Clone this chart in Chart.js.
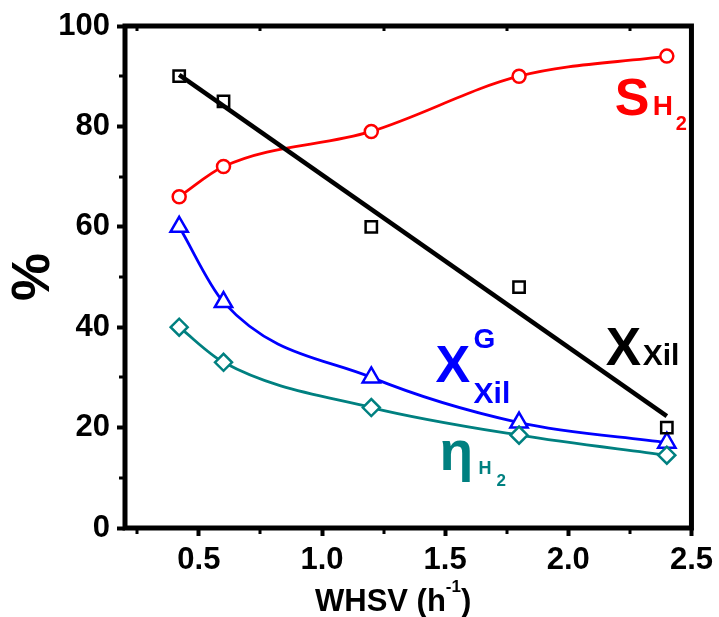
<!DOCTYPE html>
<html>
<head>
<meta charset="utf-8">
<script src="https://cdn.jsdelivr.net/npm/chart.js@4.4.1/dist/chart.umd.min.js"></script>
<style>
  html, body { margin: 0; padding: 0; background: #ffffff; }
  #wrap { width: 719px; height: 617px; position: relative; }
</style>
</head>
<body>
<div id="wrap"><canvas id="chart" width="719" height="617"></canvas></div>
<script>
// Weight hourly space velocity (h^-1)
const whsv = [0.42, 0.6, 1.2, 1.8, 2.4];
// H2 selectivity (%)
const selH2 = [66, 72, 79, 90, 94];
// Xylitol conversion (%)
const convXil = [90, 85, 60, 48, 20];
// Xylitol conversion to gas (%)
const convGas = [60, 45, 30, 21, 17];
// H2 yield (%)
const yieldH2 = [40, 33, 24, 18.5, 14.5];

const xTicks = [0.5, 1.0, 1.5, 2.0, 2.5];
const yTicks = [0, 20, 40, 60, 80, 100];

const FONT = '"Liberation Sans", Arial, Helvetica, sans-serif';
const RED = '#ff0000', BLUE = '#0000ff', TEAL = '#008080', BLACK = '#000000';

const pts = ys => whsv.map((x, i) => ({ x, y: ys[i] }));

// least-squares straight line through the xylitol conversion points
function linearFit(xs, ys) {
  const n = xs.length;
  const mx = xs.reduce((a, b) => a + b, 0) / n;
  const my = ys.reduce((a, b) => a + b, 0) / n;
  let sxy = 0, sxx = 0;
  for (let i = 0; i < n; i++) { sxy += (xs[i] - mx) * (ys[i] - my); sxx += (xs[i] - mx) ** 2; }
  const b = sxy / sxx;
  return x => my + b * (x - mx);
}
const fit = linearFit(whsv, convXil);
const fitLine = [whsv[0], whsv[whsv.length - 1]].map(x => ({ x, y: fit(x) }));

// frame, minor ticks, axis title with superscript and curve labels
const decor = {
  id: 'decor',
  afterDraw(chart) {
    const { ctx, chartArea: a, scales: { x, y } } = chart;
    ctx.save();
    ctx.strokeStyle = BLACK;
    // minor ticks
    ctx.lineWidth = 3;
    ctx.beginPath();
    for (let v = 0.25; v < 2.5; v += 0.5) {
      const px = Math.round(x.getPixelForValue(v));
      ctx.moveTo(px, a.bottom); ctx.lineTo(px, a.bottom + 6);
      ctx.moveTo(px, a.top); ctx.lineTo(px, a.top + 5);
    }
    for (let v = 10; v < 100; v += 20) {
      const py = Math.round(y.getPixelForValue(v));
      ctx.moveTo(a.left, py); ctx.lineTo(a.left - 6, py);
    }
    ctx.stroke();
    // frame
    ctx.lineWidth = 5;
    ctx.strokeRect(a.left, a.top, a.right - a.left, a.bottom - a.top);

    // x axis title
    ctx.fillStyle = BLACK;
    ctx.textBaseline = 'alphabetic';
    ctx.textAlign = 'left';
    let cx = 315;
    const base = 611;
    ctx.font = 'bold 31px ' + FONT;
    ctx.fillText('WHSV (h', cx, base);
    cx += ctx.measureText('WHSV (h').width;
    ctx.font = 'bold 17px ' + FONT;
    ctx.fillText('-1', cx, base - 19);
    cx += ctx.measureText('-1').width;
    ctx.font = 'bold 31px ' + FONT;
    ctx.fillText(')', cx, base);

    // curve labels
    const rich = (color, xv, yv, parts) => {
      const x0 = x.getPixelForValue(xv), y0 = y.getPixelForValue(yv);
      ctx.fillStyle = color;
      parts.forEach(p => {
        ctx.font = 'bold ' + p.size + 'px ' + FONT;
        ctx.fillText(p.t, x0 + p.dx, y0 + p.dy);
      });
    };
    rich(RED, 2.189, 82.3, [
      { t: 'S', size: 52, dx: 0, dy: 0 },
      { t: 'H', size: 28, dx: 38, dy: 0 },
      { t: '2', size: 20, dx: 61, dy: 15 }
    ]);
    rich(BLACK, 2.152, 32.5, [
      { t: 'X', size: 53, dx: 0, dy: 0 },
      { t: 'Xil', size: 30, dx: 37, dy: 0 }
    ]);
    rich(BLUE, 1.461, 29.1, [
      { t: 'X', size: 52, dx: 0, dy: 0 },
      { t: 'G', size: 28, dx: 38, dy: -34 },
      { t: 'Xil', size: 30, dx: 38, dy: 21 }
    ]);
    rich(TEAL, 1.481, 11.6, [
      { t: 'η', size: 55, dx: -1, dy: 0 },
      { t: 'H', size: 18, dx: 38, dy: 4 },
      { t: '2', size: 17, dx: 56, dy: 16 }
    ]);
    ctx.restore();
  }
};

const curve = (data, color, style, radius) => ({
  type: 'line',
  data,
  borderColor: color,
  borderWidth: 2.8,
  cubicInterpolationMode: 'monotone',
  pointStyle: style,
  pointRadius: radius,
  pointHoverRadius: radius,
  pointBorderColor: color,
  pointBackgroundColor: '#ffffff',
  pointBorderWidth: 2.5,
  fill: false
});

new Chart(document.getElementById('chart'), {
  type: 'scatter',
  data: {
    datasets: [
      { type: 'line', data: fitLine, borderColor: BLACK, borderWidth: 4.5, pointRadius: 0, fill: false },
      { type: 'scatter', data: pts(convXil), pointStyle: 'rect', pointRadius: 8, pointHoverRadius: 8,
        pointBorderColor: BLACK, pointBackgroundColor: 'rgba(255,255,255,0)', pointBorderWidth: 2.5 },
      curve(pts(yieldH2), TEAL, 'rectRot', 8.5),
      curve(pts(convGas), BLUE, 'triangle', 10),
      curve(pts(selH2), RED, 'circle', 6.5)
    ]
  },
  options: {
    responsive: false,
    animation: false,
    devicePixelRatio: 1,
    layout: { padding: { left: 0, top: 26, right: 25, bottom: 0 } },
    plugins: { legend: { display: false }, tooltip: { enabled: false } },
    scales: {
      x: {
        type: 'linear',
        min: 0.2, max: 2.5,
        afterBuildTicks: s => { s.ticks = xTicks.map(v => ({ value: v })); },
        afterFit: s => { s.height = 89; },
        border: { display: false },
        grid: { display: true, drawOnChartArea: false, drawTicks: true, tickLength: 8, tickWidth: 4, tickColor: BLACK },
        ticks: { color: BLACK, padding: 6, font: { family: FONT, size: 31, weight: 'bold' },
                 callback: v => Number(v).toFixed(1), maxRotation: 0 }
      },
      y: {
        min: 0, max: 100,
        afterBuildTicks: s => { s.ticks = yTicks.map(v => ({ value: v })); },
        afterFit: s => { s.width = 125; },
        border: { display: false },
        grid: { display: true, drawOnChartArea: false, drawTicks: true, tickLength: 8, tickWidth: 4, tickColor: BLACK },
        ticks: { color: BLACK, padding: 7, font: { family: FONT, size: 31, weight: 'bold' } },
        title: { display: true, text: '%', color: BLACK, padding: { top: 2, bottom: 0 },
                 font: { family: FONT, size: 54, weight: 'bold' } }
      }
    }
  },
  plugins: [decor]
});
</script>
</body>
</html>
